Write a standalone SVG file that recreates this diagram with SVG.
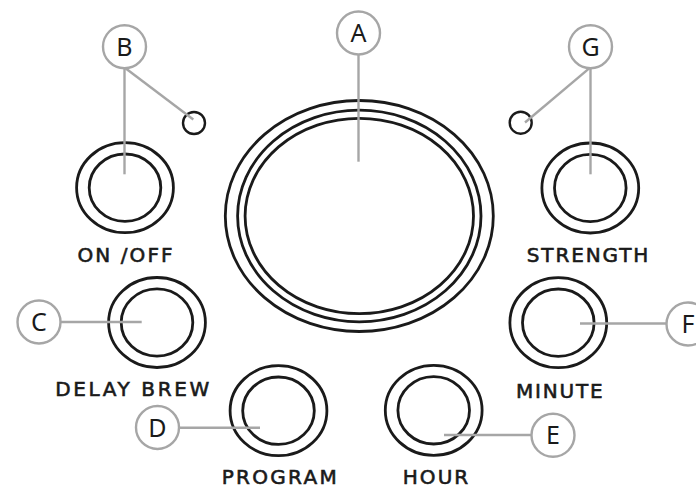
<svg xmlns="http://www.w3.org/2000/svg" width="696" height="486" viewBox="0 0 696 486">
  <style>
    .ring { fill: none; stroke: #1a1a1a; stroke-width: 2.8; }
    .led { fill: none; stroke: #1a1a1a; stroke-width: 2.4; }
    .label { font-family: "DejaVu Sans", "Liberation Sans", sans-serif; font-size: 20px; fill: #1a1a1a; stroke: #1a1a1a; stroke-width: 0.6; text-anchor: middle; }
    .tag { fill: #ffffff; stroke: #a6a6a6; stroke-width: 2.4; }
    .tag-text { font-family: "Noto Sans", "Liberation Sans", sans-serif; font-size: 25px; fill: #1a1a1a; text-anchor: middle; }
    .lead { stroke: #a6a6a6; stroke-width: 2.4; fill: none; }
  </style>
  <defs>
    <g id="button">
      <ellipse class="ring" cx="0" cy="0" rx="48.4" ry="45"/>
      <ellipse class="ring" cx="0" cy="0" rx="35.8" ry="33.7"/>
    </g>
  </defs>

  <rect width="696" height="486" fill="#ffffff"/>

  <!-- display dial -->
  <g id="display">
    <ellipse class="ring" cx="359.3" cy="216" rx="134" ry="115.5"/>
    <ellipse class="ring" cx="359.3" cy="216" rx="121.7" ry="105.8"/>
    <ellipse class="ring" cx="359.3" cy="216" rx="114.2" ry="97.7"/>
  </g>

  <!-- indicator lights -->
  <g id="led-power"><circle class="led" cx="194" cy="123" r="11"/></g>
  <g id="led-strength"><circle class="led" cx="520.7" cy="122.7" r="11"/></g>

  <!-- buttons with captions -->
  <g id="btn-onoff">
    <use href="#button" x="125" y="187.7"/>
    <text class="label" x="125" y="261.5" textLength="95" lengthAdjust="spacing">ON /OFF</text>
  </g>
  <g id="btn-strength">
    <use href="#button" x="590.3" y="188"/>
    <text class="label" x="587.5" y="261.5" textLength="121.5" lengthAdjust="spacing">STRENGTH</text>
  </g>
  <g id="btn-delay">
    <use href="#button" x="157" y="322.5"/>
    <text class="label" x="132.2" y="396" textLength="154" lengthAdjust="spacing">DELAY BREW</text>
  </g>
  <g id="btn-minute">
    <use href="#button" x="558.3" y="322.7"/>
    <text class="label" x="559.3" y="397.5" textLength="86.5" lengthAdjust="spacing">MINUTE</text>
  </g>
  <g id="btn-program">
    <use href="#button" x="278.5" y="410.7"/>
    <text class="label" x="279.2" y="483.5" textLength="115" lengthAdjust="spacing">PROGRAM</text>
  </g>
  <g id="btn-hour">
    <use href="#button" x="433.7" y="410.3"/>
    <text class="label" x="435.5" y="483.5" textLength="65.5" lengthAdjust="spacing">HOUR</text>
  </g>

  <!-- leader lines -->
  <g id="connectors">
    <line class="lead" x1="358.5" y1="54.5" x2="358.5" y2="161.7"/>
    <line class="lead" x1="124.5" y1="68.2" x2="124.5" y2="174.3"/>
    <line class="lead" x1="125.5" y1="68.2" x2="193.3" y2="119.5"/>
    <line class="lead" x1="590.5" y1="68.2" x2="590.5" y2="174.3"/>
    <line class="lead" x1="589.5" y1="68.2" x2="525" y2="122.5"/>
    <line class="lead" x1="60.5" y1="322" x2="141.7" y2="322"/>
    <line class="lead" x1="179" y1="427.7" x2="260" y2="427.7"/>
    <line class="lead" x1="531.5" y1="435" x2="444" y2="435"/>
    <line class="lead" x1="666.5" y1="323.5" x2="580" y2="323.5"/>
  </g>

  <!-- callout letters -->
  <g id="tag-A"><circle class="tag" cx="358.5" cy="33" r="21.5"/><text class="tag-text" x="358.5" y="42">A</text></g>
  <g id="tag-B"><circle class="tag" cx="124.5" cy="46.7" r="21.5"/><text class="tag-text" x="124.5" y="55.7">B</text></g>
  <g id="tag-C"><circle class="tag" cx="39" cy="322" r="21.5"/><text class="tag-text" x="39" y="331">C</text></g>
  <g id="tag-D"><circle class="tag" cx="157.5" cy="427.5" r="21.5"/><text class="tag-text" x="157.5" y="436.5">D</text></g>
  <g id="tag-E"><circle class="tag" cx="553" cy="435.3" r="21.5"/><text class="tag-text" x="553" y="444.3">E</text></g>
  <g id="tag-F"><circle class="tag" cx="688" cy="324" r="21.5"/><text class="tag-text" x="688" y="333">F</text></g>
  <g id="tag-G"><circle class="tag" cx="590.5" cy="46.7" r="21.5"/><text class="tag-text" x="590.5" y="55.7">G</text></g>
</svg>
